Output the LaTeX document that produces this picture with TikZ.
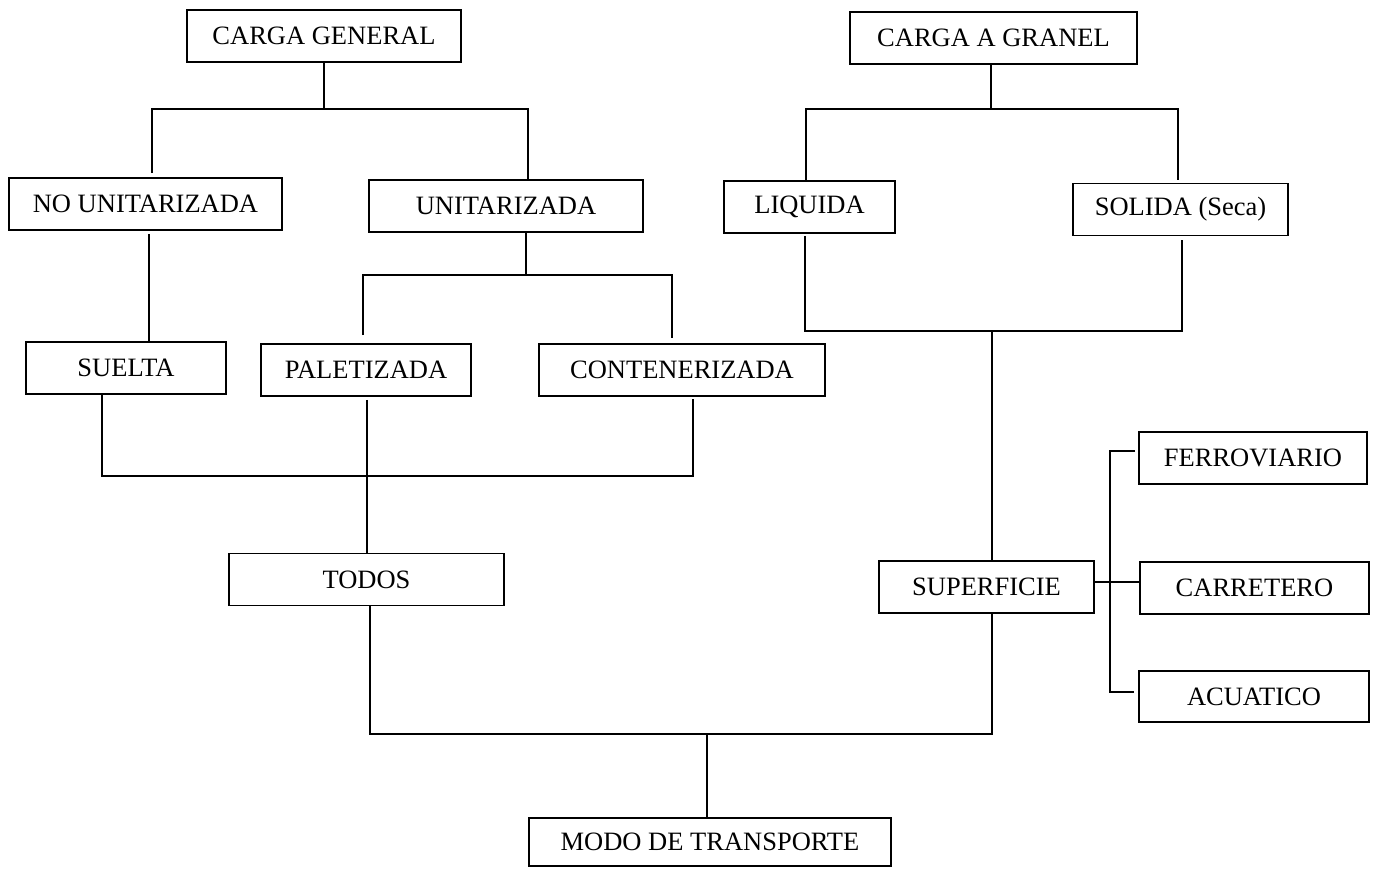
\documentclass[tikz,border=0pt]{standalone}
\usepackage{fontspec}
\setmainfont{Liberation Serif}
\usetikzlibrary{calc}
\begin{document}
\begin{tikzpicture}[x=1pt,y=-1pt,
  box/.style={draw, line width=1.8pt, inner sep=0pt, minimum height=52pt,
    font=\fontsize{26.5}{30}\selectfont},
  conn/.style={line width=1.5pt, line join=miter}]
\useasboundingbox (0,0) rectangle (1375,868);
% boxes
\node[box, minimum width=274pt] (cg)   at (324,36)    {CARGA GENERAL};
\node[box, minimum width=287pt] (cgr)  at (993.5,38)  {CARGA A GRANEL};
\node[box, minimum width=273pt] (nou)  at (145.5,204) {NO UNITARIZADA};
\node[box, minimum width=274pt] (uni)  at (506,206)   {UNITARIZADA};
\node[box, minimum width=171pt] (liq)  at (809.5,207) {LIQUIDA};
\node[box, minimum width=215pt] (sol)  at (1180.5,209.5) {SOLIDA (Seca)};
\node[box, minimum width=200pt] (sue)  at (126,368)   {SUELTA};
\node[box, minimum width=210pt] (pal)  at (366,370)   {PALETIZADA};
\node[box, minimum width=286pt] (con)  at (682,370)   {CONTENERIZADA};
\node[box, minimum width=228pt] (fer)  at (1253,458)  {FERROVIARIO};
\node[box, minimum width=275pt] (tod)  at (366.5,579.5) {TODOS};
\node[box, minimum width=215pt] (sup)  at (986.5,587) {SUPERFICIE};
\node[box, minimum width=229pt] (car)  at (1254.5,588) {CARRETERO};
\node[box, minimum width=230pt, minimum height=51pt] (acu) at (1254,696.5) {ACUATICO};
\node[box, minimum width=362pt, minimum height=48pt] (modo) at (710,842) {MODO DE TRANSPORTE};
% junction coordinates
\coordinate (cgbar) at (324,109);
\coordinate (cgL) at (152,109);
\coordinate (cgR) at (528,109);
\coordinate (grbar) at (991,109);
\coordinate (grL) at (806,109);
\coordinate (grR) at (1178,109);
\coordinate (nouX) at (149,0);
\coordinate (unibar) at (526,275);
\coordinate (uL) at (363,275);
\coordinate (uR) at (672,275);
\coordinate (uLend) at (363,335);
\coordinate (uRend) at (672,338);
\coordinate (lsL) at (805,331);
\coordinate (lsR) at (1182,331);
\coordinate (lsM) at (992,331);
\coordinate (bL) at (102,476);
\coordinate (bR) at (693,476);
\coordinate (palX) at (367,0);
\coordinate (tL) at (370,734);
\coordinate (tR) at (992,734);
\coordinate (tM) at (707,734);
\coordinate (teeT) at (1110,451);
\coordinate (teeM) at (1110,582);
\coordinate (teeB) at (1110,692);
% CARGA GENERAL tree
\draw[conn] (cg.south) -- (cgbar);
\draw[conn] (cgL |- nou.north) ++(0,-4) -- (cgL) -- (cgR) -- (cgR |- uni.north);
% CARGA A GRANEL tree
\draw[conn] (cgr.south -| grbar) -- (grbar);
\draw[conn] (grL |- liq.north) -- (grL) -- (grR) -- ($(grR |- sol.north)+(0,-3)$);
% NO UNITARIZADA -> SUELTA
\draw[conn] ($(nouX |- nou.south)+(0,3)$) -- (nouX |- sue.north);
% UNITARIZADA tree
\draw[conn] (uni.south -| unibar) -- (unibar);
\draw[conn] (uLend) -- (uL) -- (uR) -- (uRend);
% LIQUIDA / SOLIDA -> SUPERFICIE
\draw[conn] ($(lsL |- liq.south)+(0,2)$) -- (lsL) -- (lsR) -- ($(lsR |- sol.south)+(0,4)$);
\draw[conn] (lsM) -- (lsM |- sup.north);
% SUELTA / CONTENERIZADA join
\draw[conn] (bL |- sue.south) -- (bL) -- (bR) -- ($(bR |- con.south)+(0,2)$);
% PALETIZADA -> TODOS
\draw[conn] ($(palX |- pal.south)+(0,3)$) -- (palX |- tod.north);
% TODOS / SUPERFICIE -> MODO
\draw[conn] (tL |- tod.south) -- (tL) -- (tR) -- (tR |- sup.south);
\draw[conn] (tM) -- (tM |- modo.north);
% SUPERFICIE tee
\draw[conn] (sup.east |- teeM) -- (car.west |- teeM);
\draw[conn] ($(fer.west |- teeT)+(-3,0)$) -- (teeT) -- (teeB) -- ($(acu.west |- teeB)+(-4,0)$);
\end{tikzpicture}
\end{document}
